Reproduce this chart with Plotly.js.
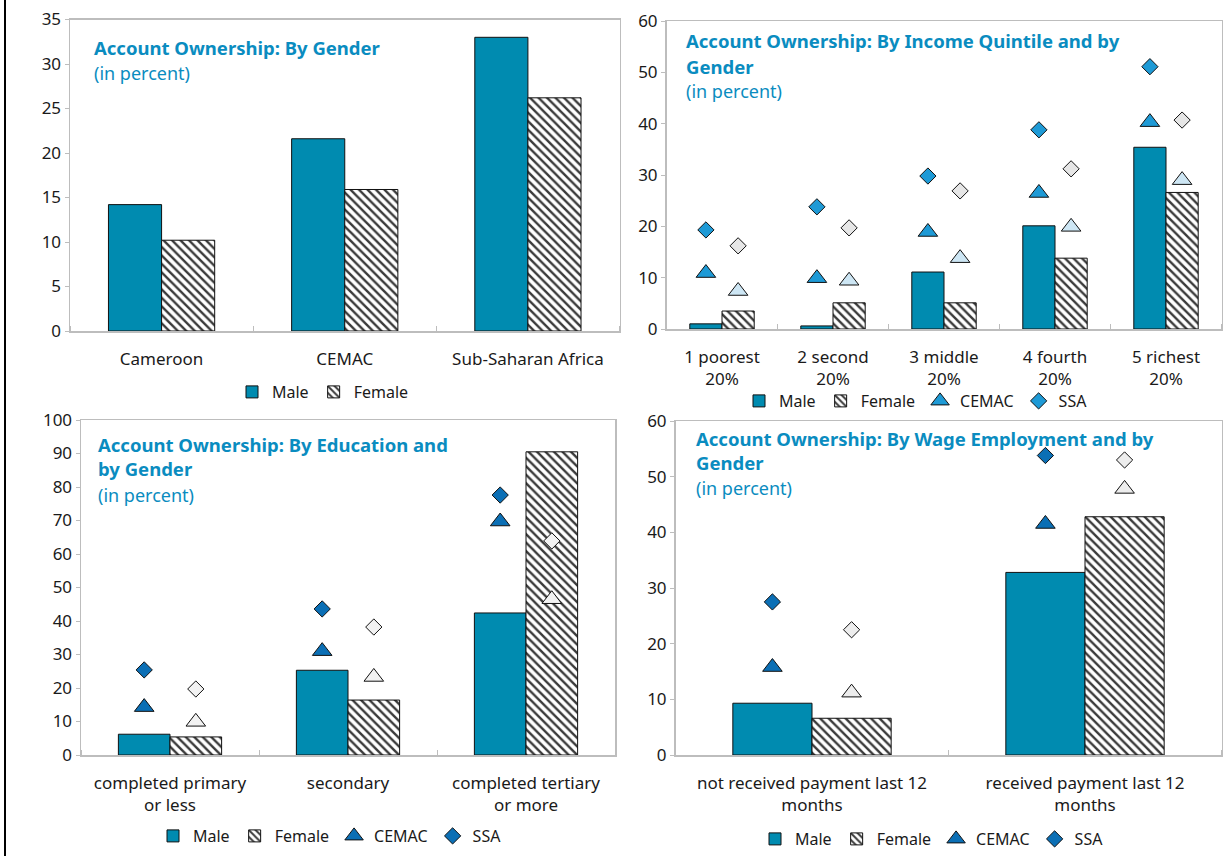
<!DOCTYPE html>
<html>
<head>
<meta charset="utf-8">
<script src="https://cdn.plot.ly/plotly-3.0.1.min.js"></script>
<style>html,body{margin:0;padding:0;background:#fff;}#chart{width:1225px;height:856px;}</style>
</head>
<body>
<div id="chart"></div>
<script>
// ---------- data ----------
const genderCats = ['Cameroon', 'CEMAC', 'Sub-Saharan Africa'];
const genderMale = [14.2, 21.6, 33.0];
const genderFemale = [10.2, 15.9, 26.2];

const quintileCats = ['1 poorest<br>20%', '2 second<br>20%', '3 middle<br>20%', '4 fourth<br>20%', '5 richest<br>20%'];
const quintileMale = [1.0, 0.6, 11.1, 20.1, 35.4];
const quintileFemale = [3.5, 5.1, 5.1, 13.8, 26.6];
const quintileCemacMale = [10.9, 9.9, 18.9, 26.5, 40.3];
const quintileSsaMale = [19.3, 23.8, 29.8, 38.8, 51.1];
const quintileCemacFemale = [7.4, 9.4, 13.8, 19.9, 29.0];
const quintileSsaFemale = [16.2, 19.7, 26.9, 31.2, 40.7];

const eduCats = ['completed primary<br>or less', 'secondary', 'completed tertiary<br>or more'];
const eduMale = [6.2, 25.3, 42.4];
const eduFemale = [5.4, 16.4, 90.5];
const eduCemacMale = [14.3, 31.0, 69.7];
const eduSsaMale = [25.4, 43.6, 77.6];
const eduCemacFemale = [9.9, 23.3, 46.5];
const eduSsaFemale = [19.7, 38.2, 63.9];

const wageCats = ['not received payment last 12<br>months', 'received payment last 12<br>months'];
const wageMale = [9.3, 32.8];
const wageFemale = [6.6, 42.8];
const wageCemacMale = [15.8, 41.5];
const wageSsaMale = [27.5, 53.8];
const wageCemacFemale = [11.2, 47.8];
const wageSsaFemale = [22.5, 53.0];

// ---------- styling ----------
const W = 1225, H = 856;
const FONT = 'Noto Sans, Open Sans, sans-serif';
const TEAL = '#008bb0';
const TITLE = '#0a8cc0';
const GAP = 0.42;
const BW = (1 - GAP) / 2;
const TRI = 17, DIA = 12.5;
const px = v => v / W;
const py = v => 1 - v / H;

const femalePattern = {shape: '\\', fgcolor: '#3a3a3a', bgcolor: '#ffffff', size: 6, solidity: 0.4};

const traces = [];
function addPanel(k, cats, male, female, cemM, ssaM, cemF, ssaF, mColor, fTriColor, fDiaColor) {
  const sfx = k === 1 ? '' : String(k);
  const xa = 'x' + sfx, ya = 'y' + sfx, lg = 'legend' + sfx;
  const idx = cats.map((_, i) => i);
  traces.push({type: 'bar', name: 'Male', x: idx, y: male, width: BW, offset: -BW,
    marker: {color: TEAL, line: {color: '#111', width: 1}}, xaxis: xa, yaxis: ya, legend: lg, hoverinfo: 'y'});
  traces.push({type: 'bar', name: 'Female', x: idx, y: female, width: BW, offset: 0,
    marker: {color: '#fff', pattern: femalePattern, line: {color: '#111', width: 1}}, xaxis: xa, yaxis: ya, legend: lg, hoverinfo: 'y'});
  if (cemM) {
    const xm = idx.map(i => i - BW / 2), xf = idx.map(i => i + BW / 2);
    traces.push({type: 'scatter', mode: 'markers', name: 'CEMAC', x: xm, y: cemM,
      marker: {symbol: 'triangle-up', size: TRI, color: mColor, line: {color: '#111', width: 1}}, xaxis: xa, yaxis: ya, legend: lg});
    traces.push({type: 'scatter', mode: 'markers', name: 'SSA', x: xm, y: ssaM,
      marker: {symbol: 'diamond', size: DIA, color: mColor, line: {color: '#111', width: 1}}, xaxis: xa, yaxis: ya, legend: lg});
    traces.push({type: 'scatter', mode: 'markers', name: 'CEMAC female', showlegend: false, x: xf, y: cemF,
      marker: {symbol: 'triangle-up', size: TRI, color: fTriColor, line: {color: '#111', width: 1}}, xaxis: xa, yaxis: ya});
    traces.push({type: 'scatter', mode: 'markers', name: 'SSA female', showlegend: false, x: xf, y: ssaF,
      marker: {symbol: 'diamond', size: DIA, color: fDiaColor, line: {color: '#111', width: 1}}, xaxis: xa, yaxis: ya});
  }
}
addPanel(1, genderCats, genderMale, genderFemale);
addPanel(2, quintileCats, quintileMale, quintileFemale, quintileCemacMale, quintileSsaMale, quintileCemacFemale, quintileSsaFemale, '#1e9ad6', '#cde6f4', '#e6e6e6');
addPanel(3, eduCats, eduMale, eduFemale, eduCemacMale, eduSsaMale, eduCemacFemale, eduSsaFemale, '#0b6fb5', '#f2f2f2', '#f2f2f2');
addPanel(4, wageCats, wageMale, wageFemale, wageCemacMale, wageSsaMale, wageCemacFemale, wageSsaFemale, '#0b6fb5', '#ededed', '#ededed');

function xAxis(n, left, right, anchor) {
  return {domain: [px(left), px(right)], anchor: anchor, range: [-0.5, n - 0.5],
    tickmode: 'array', tickvals: Array.from({length: n}, (_, i) => i),
    ticks: '', showgrid: false, zeroline: false, showline: true, mirror: true,
    linecolor: '#bdbdbd', linewidth: 1.5, ticklabelstandoff: 12,
    tickfont: {family: FONT, size: 17, color: '#1a1a1a'},
    minor: {tick0: 0.5, dtick: 1, ticks: 'inside', ticklen: 5, tickcolor: '#bdbdbd', tickwidth: 1, showgrid: false},
    fixedrange: true};
}
function yAxis(top, bottom, max, dtick, anchor) {
  return {domain: [py(bottom), py(top)], anchor: anchor, range: [0, max], dtick: dtick,
    ticks: 'outside', ticklen: 4, tickcolor: '#bdbdbd', showgrid: false, zeroline: false,
    showline: true, mirror: true, linecolor: '#bdbdbd', linewidth: 1.5,
    tickfont: {family: FONT, size: 17, color: '#1a1a1a'}, fixedrange: true};
}

const xa1 = xAxis(genderCats.length, 70, 619.5, 'y');
xa1.ticktext = genderCats;
const xa2 = xAxis(quintileCats.length, 666.5, 1221.5, 'y2');
xa2.ticktext = quintileCats;
const xa3 = xAxis(eduCats.length, 81, 615, 'y3');
xa3.ticktext = eduCats;
const xa4 = xAxis(wageCats.length, 675.5, 1221.5, 'y4');
xa4.ticktext = wageCats;

function legend(cx, cy) {
  return {orientation: 'h', x: px(cx), y: py(cy), xanchor: 'center', yanchor: 'middle',
    font: {family: FONT, size: 16, color: '#1a1a1a'}, bgcolor: 'rgba(0,0,0,0)', itemwidth: 30,
    tracegroupgap: 0};
}

function title(txt, x, y, bold) {
  return {text: bold ? '<b>' + txt + '</b>' : txt, xref: 'paper', yref: 'paper', x: px(x), y: py(y),
    xanchor: 'left', yanchor: 'middle', showarrow: false,
    font: {family: FONT, size: bold ? 18.5 : 18, color: TITLE}};
}

const layout = {
  width: W, height: H, autosize: false,
  margin: {l: 0, r: 0, t: 0, b: 0},
  paper_bgcolor: '#fff', plot_bgcolor: '#fff',
  showlegend: true, barmode: 'overlay',
  font: {family: FONT, color: '#1a1a1a'},
  xaxis: xa1, yaxis: yAxis(19.5, 331, 35, 5, 'x'),
  xaxis2: xa2, yaxis2: yAxis(21, 329, 60, 10, 'x2'),
  xaxis3: xa3, yaxis3: yAxis(420, 755, 100, 10, 'x3'),
  xaxis4: xa4, yaxis4: yAxis(421, 755, 60, 10, 'x4'),
  legend: legend(323, 392),
  legend2: legend(916, 401),
  legend3: legend(330, 836),
  legend4: legend(932, 839),
  annotations: [
    title('Account Ownership: By Gender', 92, 47, true),
    title('(in percent)', 92, 73, false),
    title('Account Ownership: By Income Quintile and by', 684, 41, true),
    title('Gender', 684, 66, true),
    title('(in percent)', 684, 91, false),
    title('Account Ownership: By Education and', 96, 445, true),
    title('by Gender', 96, 469, true),
    title('(in percent)', 96, 495, false),
    title('Account Ownership: By Wage Employment and by', 694, 438, true),
    title('Gender', 694, 462, true),
    title('(in percent)', 694, 488, false)
  ],
  shapes: [
    {type: 'line', xref: 'paper', yref: 'paper', x0: px(5), x1: px(5), y0: 0, y1: 1, line: {color: '#000', width: 2}}
  ]
};

Plotly.newPlot('chart', traces, layout, {displayModeBar: false, staticPlot: true});
</script>
</body>
</html>
